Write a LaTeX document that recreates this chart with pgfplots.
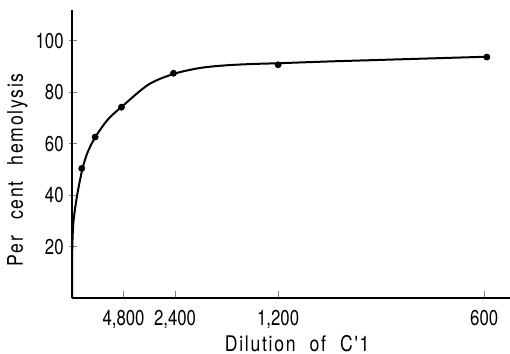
\documentclass[border=0pt]{standalone}
\usepackage{pgfplots}
\pgfplotsset{compat=1.18}
\usepackage{fontspec}
\setmainfont{TeX Gyre Heros}
\newfontfamily\tickfont{TeX Gyre Heros}[FakeStretch=0.78]
\newfontfamily\labelfont{TeX Gyre Heros}[FakeStretch=0.82, LetterSpace=8]
\begin{document}
\begin{tikzpicture}
\begin{axis}[
  name=ax,
  scale only axis,
  width=219bp, height=144bp,
  xmin=0, xmax=8.5, ymin=0, ymax=112,
  axis lines=left,
  axis line style={-, line width=0.75bp},
  xtick={1,2,4,8},
  xticklabels={4{,}800, 2{,}400, 1{,}200, 600},
  ytick={20,40,60,80,100},
  tick align=center,
  major tick length=4bp,
  xtick style={yshift=1.5bp, line width=0.5bp},
  ytick style={xshift=0.5bp, line width=0.5bp},
  /pgf/number format/assume math mode=true,
  tick label style={font=\fontsize{10.8}{12}\tickfont},
  xticklabel style={inner sep=0pt, anchor=north, yshift=-4bp},
  yticklabel style={inner sep=0pt, anchor=east, xshift=-2bp},
  label style={font=\fontsize{10.8}{12}\labelfont, inner sep=0pt},
  xlabel={Dilution\hspace{0.65em}of\hspace{0.65em}C'1},
  ylabel={Per\hspace{0.75em}cent\hspace{0.75em}hemolysis},
  xlabel style={at={(axis description cs:0.514,0)}, anchor=north, yshift=-18.6bp},
  ylabel style={at={(axis description cs:-0.1005,0.445)}, anchor=south},
  clip=false,
]
\addplot[black, line width=1bp, smooth, tension=0.5] coordinates {
  (0,0) (0.002,8) (0.006,20) (0.03,30) (0.1,40) (0.2,50) (0.3,56.5)
  (0.45,62.5) (0.7,69.5) (1,75) (1.5,83.2) (2,87.3) (2.5,89.5) (3,90.5)
  (3.5,91.0) (4,91.3) (5,92.0) (6,92.6) (7,93.2) (8,93.8)
};
\addplot[only marks, mark=*, mark size=1.5bp, black] coordinates {
  (0.19,50.4) (0.45,62.6) (0.96,74.2) (1.97,87.4) (4.0,90.7) (8.05,93.7)
};
\end{axis}
\pgfresetboundingbox
\path (ax.south west) ++(-36bp,-27.75bp) rectangle ([yshift=5bp]ax.north east);
\end{tikzpicture}
\end{document}
